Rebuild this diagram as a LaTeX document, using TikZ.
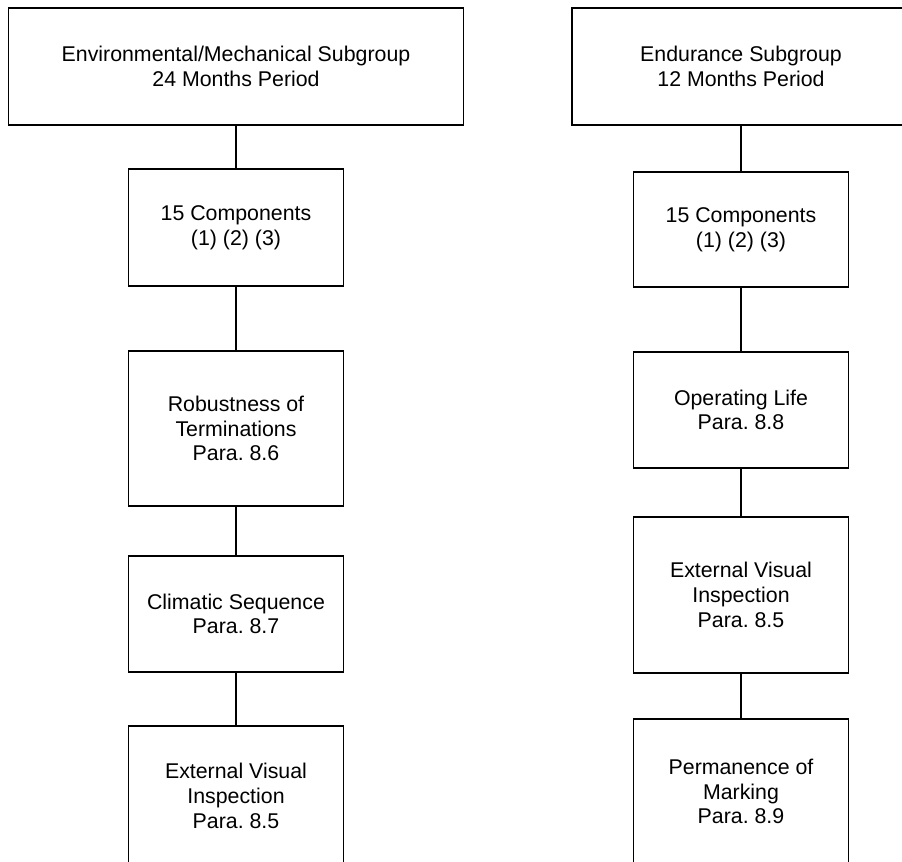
\documentclass[tikz,border=0pt]{standalone}
\usepackage{fontspec}
\setmainfont{Liberation Sans}
\frenchspacing
\newcommand{\boxfont}{\fontsize{16}{18.5}\selectfont}

\begin{document}
\begin{tikzpicture}[x=0.75pt,y=-0.75pt,
   stage/.style={draw=black,line width=1.3pt,align=center,inner sep=0pt,font=\boxfont},
   narrow/.style={stage,minimum width=161.25pt},
   link/.style={line width=1.3pt}]
   \useasboundingbox (0,0) rectangle (902,862);
   \clip (0,0) rectangle (902,862);
   \node[stage,minimum width=341.25pt,minimum height=87.75pt] (envhead) at (236.0, 66.5)
      {Environmental/Mechanical Subgroup\\24 Months Period};
   \node[narrow,minimum height=87.75pt]  (envcomp)  at (236.0,227.5) {15 Components\\(1) (2) (3)};
   \node[narrow,minimum height=116.25pt] (envrobst) at (236.0,428.5) {Robustness of\\Terminations\\Para. 8.6};
   \node[narrow,minimum height=87pt]     (envclim)  at (236.0,614.0) {Climatic Sequence\\Para. 8.7};
   \node[narrow,minimum height=105pt]    (envvis)   at (236.0,796.0) {External Visual\\Inspection\\Para. 8.5};
   \node[stage,minimum width=253.5pt,minimum height=87.75pt] (endhead) at (741.0, 66.5)
      {Endurance Subgroup\\12 Months Period};
   \node[narrow,minimum height=86.25pt]  (endcomp)  at (741.0,229.5) {15 Components\\(1) (2) (3)};
   \node[narrow,minimum height=87pt]     (endlife)  at (741.0,410.0) {Operating Life\\Para. 8.8};
   \node[narrow,minimum height=117pt]    (endvis)   at (741.0,595.0) {External Visual\\Inspection\\Para. 8.5};
   \node[narrow,minimum height=108.75pt] (endmark)  at (741.0,791.5) {Permanence of\\Marking\\Para. 8.9};
   \draw[link] (envhead) -- (envcomp);
   \draw[link] (envcomp) -- (envrobst);
   \draw[link] (envrobst) -- (envclim);
   \draw[link] (envclim) -- (envvis);
   \draw[link] (endhead.south -| endcomp) -- (endcomp);
   \draw[link] (endcomp) -- (endlife);
   \draw[link] (endlife) -- (endvis);
   \draw[link] (endvis) -- (endmark);
\end{tikzpicture}
\end{document}
